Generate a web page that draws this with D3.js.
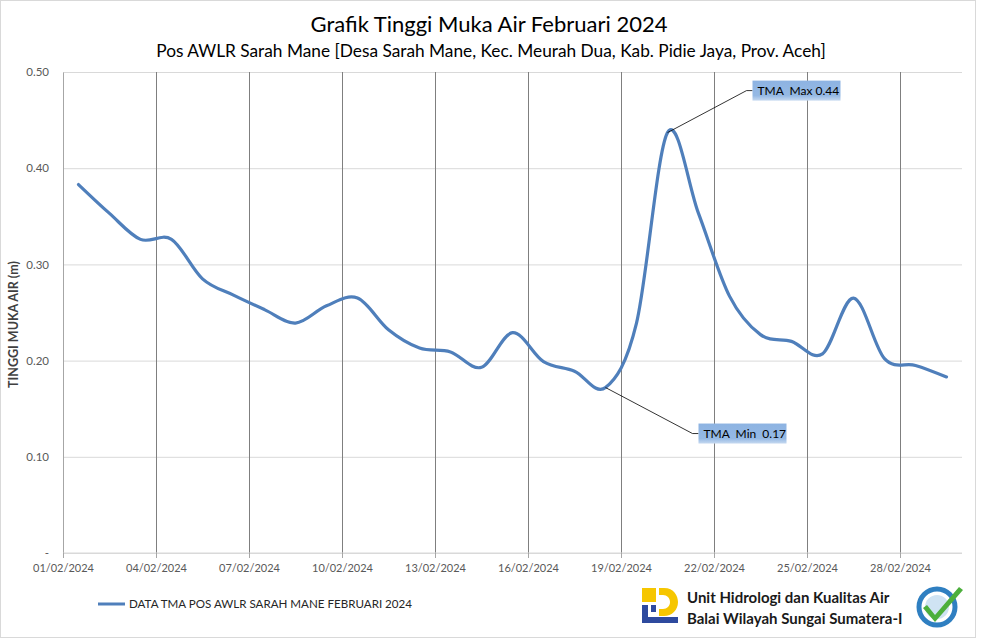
<!DOCTYPE html>
<html>
<head>
<meta charset="utf-8">
<script src="https://cdn.jsdelivr.net/npm/d3@7"></script>
<style>
  body { margin: 0; background: #fff; }
  svg { display: block; font-family: Lato, "Open Sans", sans-serif; }
</style>
</head>
<body>
<div id="chart"></div>
<script>
// daily water level (m), February 2024, one value per day
const days = d3.range(1, 30)
const levels = [0.383, 0.353, 0.326, 0.326, 0.285, 0.268, 0.253, 0.239, 0.257, 0.265,
    0.232, 0.213, 0.209, 0.193, 0.229, 0.199, 0.189, 0.172, 0.239, 0.437,
    0.353, 0.267, 0.227, 0.22, 0.207, 0.265, 0.202, 0.195, 0.183]
const tickDays = [1, 4, 7, 10, 13, 16, 19, 22, 25, 28]
const yTicks = [0, 0.1, 0.2, 0.3, 0.4, 0.5]

const title = "Grafik Tinggi Muka Air Februari 2024"
const subtitle = "Pos AWLR Sarah Mane [Desa Sarah Mane, Kec. Meurah Dua, Kab. Pidie Jaya, Prov. Aceh]"
const legendLabel = "DATA TMA POS AWLR SARAH MANE FEBRUARI 2024"

const W = 984, H = 639
const margin = { top: 72, right: 22, bottom: 86, left: 63 }
const width = W - margin.left - margin.right
const height = H - margin.top - margin.bottom

const data = days.map((d, i) => ({ date: new Date(2024, 1, d, 12), value: levels[i] }))

const svg = d3.select("#chart").append("svg")
    .attr("width", W).attr("height", H)

svg.append("rect")
    .attr("x", 0.5).attr("y", 0.5)
    .attr("width", 975).attr("height", 637)
    .attr("fill", "#fff").attr("stroke", "#d9d9d9")

svg.append("text")
    .attr("x", 489).attr("y", 32)
    .attr("text-anchor", "middle")
    .attr("font-size", 22).attr("fill", "#000")
    .text(title)

svg.append("text")
    .attr("x", 491).attr("y", 57)
    .attr("text-anchor", "middle")
    .attr("font-size", 17.3).attr("fill", "#000")
    .text(subtitle)

const g = svg.append("g")
    .attr("transform", "translate(" + margin.left + "," + margin.top + ")")

const x = d3.scaleTime()
    .domain([new Date(2024, 1, 1), new Date(2024, 2, 1)])
    .range([0, width])

const y = d3.scaleLinear().domain([0, 0.5]).range([height, 0])

// horizontal grid
g.append("g")
    .call(d3.axisLeft(y).tickValues(yTicks).tickSize(-width).tickFormat(""))
    .call((s) => s.select(".domain").remove())
    .call((s) => s.selectAll("line").attr("stroke", "#d9d9d9"))

// vertical grid
g.append("g")
    .selectAll("line")
    .data(tickDays.slice(1))
    .enter()
    .append("line")
    .attr("x1", (d) => x(new Date(2024, 1, d)) + 0.5)
    .attr("x2", (d) => x(new Date(2024, 1, d)) + 0.5)
    .attr("y1", 0).attr("y2", height)
    .attr("stroke", "#7f7f7f")

// y axis
const yAxis = g.append("g")
    .call(d3.axisLeft(y).tickValues(yTicks).tickSize(0).tickPadding(14)
        .tickFormat((d) => (d === 0 ? "-" : d3.format(".2f")(d))))
yAxis.select(".domain").attr("stroke", "#a6a6a6")
yAxis.selectAll("text").attr("fill", "#595959").attr("font-size", 11.5)
    .attr("font-family", "Lato, sans-serif")

// x axis
const xAxis = g.append("g")
    .attr("transform", "translate(0," + height + ")")
    .call(d3.axisBottom(x)
        .tickValues(tickDays.map((d) => new Date(2024, 1, d)))
        .tickSize(5).tickPadding(6)
        .tickFormat(d3.timeFormat("%d/%m/%Y")))
xAxis.select(".domain").attr("stroke", "#d9d9d9")
    .attr("d", "M0.5,0H" + width)
xAxis.selectAll("line").attr("stroke", "#a6a6a6")
xAxis.selectAll("text").attr("fill", "#595959").attr("font-size", 11)
    .attr("font-family", "Lato, sans-serif")

svg.append("text")
    .attr("transform", "translate(18," + (margin.top + height / 2 + 12) + ") rotate(-90)")
    .attr("text-anchor", "middle")
    .attr("font-size", 12.5).attr("font-weight", "bold").attr("fill", "#404040")
    .text("TINGGI MUKA AIR (m)")

const line = d3.line()
    .x((d) => x(d.date))
    .y((d) => y(d.value))
    .curve(d3.curveCatmullRom.alpha(0))

g.append("path")
    .datum(data)
    .attr("d", line)
    .attr("fill", "none")
    .attr("stroke", "#4f7fbb")
    .attr("stroke-width", 3.2)
    .attr("stroke-linejoin", "round")
    .attr("stroke-linecap", "round")

// annotations for max / min
const defs = svg.append("defs")
const grad = defs.append("linearGradient").attr("id", "lbl")
    .attr("x1", 0).attr("y1", 0).attr("x2", 0).attr("y2", 1)
grad.append("stop").attr("offset", "0%").attr("stop-color", "#8db3e2")
grad.append("stop").attr("offset", "75%").attr("stop-color", "#95b9e4")
grad.append("stop").attr("offset", "100%").attr("stop-color", "#c6d9f0")

const maxD = data[d3.maxIndex(data, (d) => d.value)]
const minD = data[d3.minIndex(data, (d) => d.value)]

function annotate(d, text, dx, dy, w) {
    const px = x(d.date), py = y(d.value)
    const bx = px + dx, by = py + dy
    g.append("path")
        .attr("d", "M" + px + "," + py + "L" + (bx - 6) + "," + (by + 10) + "H" + bx)
        .attr("fill", "none").attr("stroke", "#000").attr("stroke-width", 0.8)
    g.append("rect")
        .attr("x", bx).attr("y", by)
        .attr("width", w).attr("height", 20)
        .attr("fill", "url(#lbl)")
    g.append("text")
        .attr("x", bx + 5).attr("y", by + 14)
        .attr("font-size", 12).attr("fill", "#000")
        .attr("xml:space", "preserve")
        .text(text)
}
annotate(maxD, "TMA  Max 0.44", 85, -52, 88)
annotate(minD, "TMA  Min  0.17", 93, 36, 88)

// legend
svg.append("line")
    .attr("x1", 98).attr("x2", 125).attr("y1", 604).attr("y2", 604)
    .attr("stroke", "#4f7fbb").attr("stroke-width", 3)
svg.append("text")
    .attr("x", 129).attr("y", 608)
    .attr("font-size", 11.6).attr("fill", "#262626")
    .text(legendLabel)

// footer logos
const logo = svg.append("g").attr("transform", "translate(642,588)")
logo.append("path").attr("d", "M0,0H14V14H0Z").attr("fill", "#f6c600")
logo.append("path").attr("d", "M17,0H22C32,0 36,8 36,14C36,22 30,28 22,28H17V21H21C25,21 28,18 28,14C28,10 25,7 21,7H17Z").attr("fill", "#f6c600")
logo.append("path").attr("d", "M0,17H6V29H36V35H0Z").attr("fill", "#2e4a9e")
logo.append("path").attr("d", "M9,17H14V24H9Z").attr("fill", "#2e4a9e")

svg.append("text")
    .attr("x", 687).attr("y", 603)
    .attr("font-size", 15).attr("font-weight", "bold").attr("fill", "#1a1a1a")
    .text("Unit Hidrologi dan Kualitas Air")
svg.append("text")
    .attr("x", 687).attr("y", 624)
    .attr("font-size", 15).attr("font-weight", "bold").attr("fill", "#1a1a1a")
    .text("Balai Wilayah Sungai Sumatera-I")

const iso = svg.append("g").attr("transform", "translate(937,607)")
iso.append("circle").attr("r", 18).attr("fill", "#fff").attr("stroke", "#2f7fc1").attr("stroke-width", 5)
iso.append("circle").attr("r", 12).attr("fill", "#cfe3f3")
iso.append("path").attr("d", "M-10,-2L-2,8L22,-20L26,-17L-2,15L-14,1Z").attr("fill", "#4caf3c")
</script>
</body>
</html>
